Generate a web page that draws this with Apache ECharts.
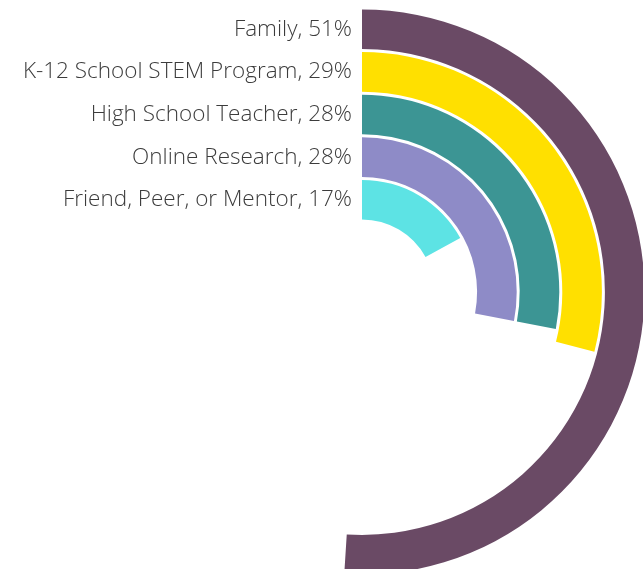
<!DOCTYPE html>
<html><head><meta charset="utf-8">
<script src="https://cdn.jsdelivr.net/npm/echarts@6/dist/echarts.min.js"></script>
<style>html,body{margin:0;padding:0;background:#fff}#c{width:643px;height:569px}</style>
</head><body><div id="c"></div>
<script>
const categories = ['Friend, Peer, or Mentor', 'Online Research', 'High School Teacher', 'K-12 School STEM Program', 'Family'];
const values = [17, 28, 28, 29, 51];
const colors = ['#5DE3E4', '#8E8BC7', '#3C9594', '#FFE000', '#6A4A65'];

const chart = echarts.init(document.getElementById('c'));
chart.setOption({
  animation: false,
  polar: { center: [362, 292], radius: [71, 284] },
  angleAxis: { type: 'value', min: 0, max: 100, startAngle: 90, clockwise: true, show: false },
  radiusAxis: { type: 'category', data: categories, show: false },
  series: [{
    type: 'bar',
    coordinateSystem: 'polar',
    barCategoryGap: '7%',
    data: values.map((v, i) => ({ value: v, itemStyle: { color: colors[i] } })),
    label: {
      show: true,
      position: 'start',
      distance: 10,
      formatter: p => p.name + ', ' + p.value + '%',
      fontFamily: 'Open Sans',
      fontWeight: 300,
      fontSize: 22.5,
      color: '#3c3c3c'
    }
  }]
});
</script></body></html>
